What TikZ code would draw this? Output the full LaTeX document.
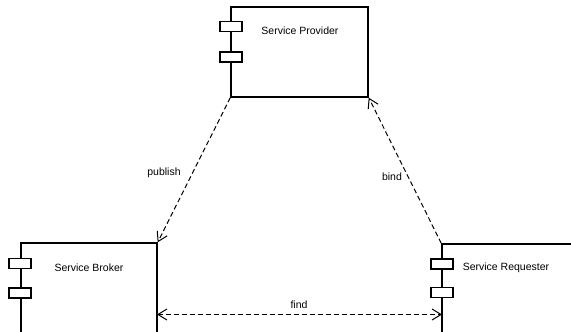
\documentclass[tikz,border=0pt]{standalone}
\usepackage{fontspec}
\setmainfont{Liberation Sans}
\usetikzlibrary{arrows.meta}
\tikzset{
  barb/.tip={Straight Barb[length=9pt,width=11pt,line width=1pt]},
  comp/.style={draw, line width=1.4pt, rectangle, inner sep=0pt},
  port/.style={draw, line width=1.1pt, rectangle, fill=white, inner sep=0pt, minimum width=22pt, minimum height=10pt},
  lbl/.style={font=\fontsize{10.5pt}{12pt}\selectfont, inner sep=0pt},
  dep/.style={line width=1pt, dash pattern=on 5pt off 3pt, -barb},
  depboth/.style={line width=1pt, dash pattern=on 5pt off 3pt, barb-barb}
}
\begin{document}
\begin{tikzpicture}[x=1pt,y=-1pt]
\useasboundingbox (0,0) rectangle (571,332);
\clip (0,0) rectangle (571,332);
% components
\node[comp, minimum width=137pt, minimum height=90pt] (prov) at (299.5,52) {};
\node[comp, minimum width=136pt, minimum height=110pt] (broker) at (89,298) {};
\node[comp, minimum width=150pt, minimum height=110pt] (req) at (517,299) {};
% ports
\node[port] (pp1) at (231,26.5) {};
\node[port] (pp2) at (231,57) {};
\node[port] (bp1) at (20,263.5) {};
\node[port] (bp2) at (20,293) {};
\node[port] (rp1) at (442,264) {};
\node[port] (rp2) at (442,292.5) {};
% labels
\node[lbl] (tprov) at (300,30.5) {Service Provider};
\node[lbl] (tbroker) at (89,267.5) {Service Broker};
\node[lbl] (treq) at (506,267.5) {Service Requester};
% connectors
\coordinate (fb) at (157,314.5);
\coordinate (fr) at (442,314.5);
\draw[dep] (prov.south west) -- (broker.north east);
\draw[dep] (req.north west) -- (prov.south east);
\draw[depboth] (fb) -- (fr);
\node[lbl] (lpub) at (164,173) {publish};
\node[lbl] (lbind) at (392,177) {bind};
\node[lbl] (lfind) at (299,305) {find};
\end{tikzpicture}
\end{document}
